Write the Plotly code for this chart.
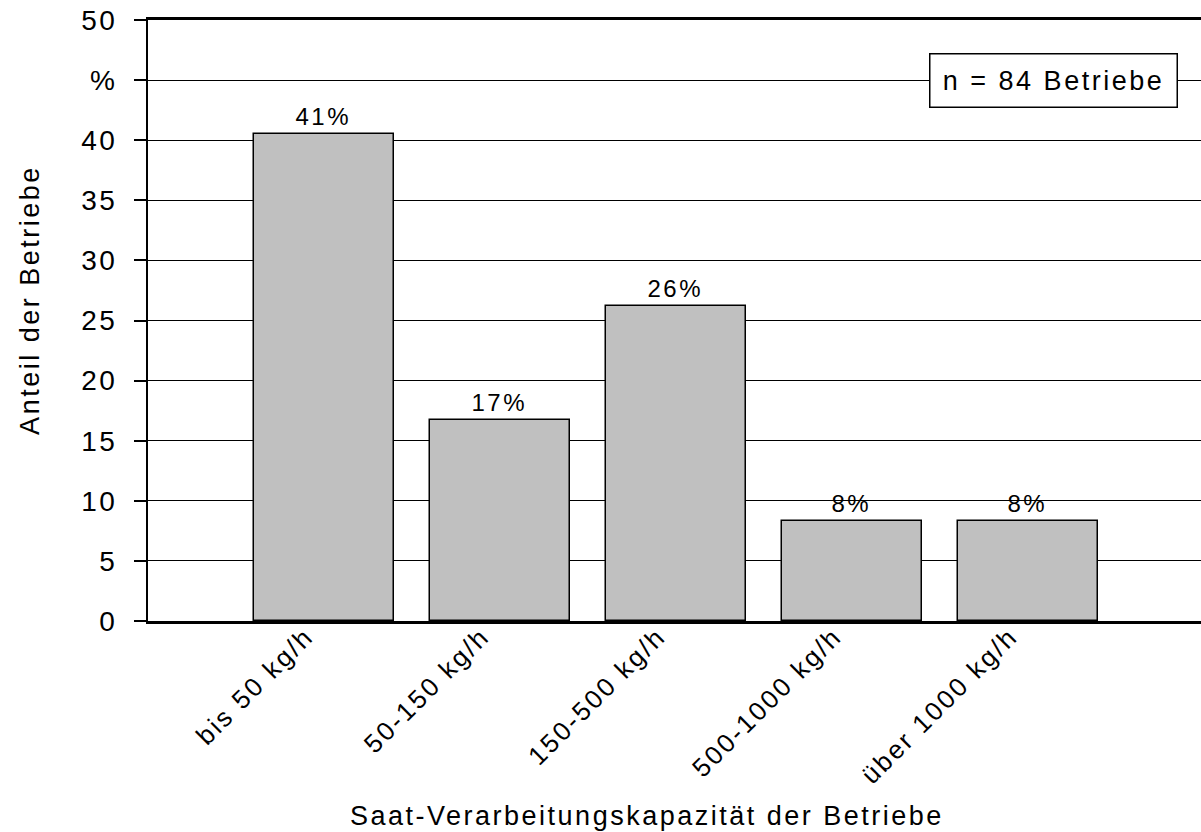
import plotly.graph_objects as go

# Anteil der Betriebe je Kapazitaetsklasse (n = 84)
categories = ["bis 50 kg/h", "50-150 kg/h", "150-500 kg/h", "500-1000 kg/h", "über 1000 kg/h"]
positions = [1, 2, 3, 4, 5]
anteil = [40.5, 16.7, 26.2, 8.3, 8.3]
bar_labels = ["41%", "17%", "26%", "8%", "8%"]

y_tickvals = [0, 5, 10, 15, 20, 25, 30, 35, 40, 45, 50]
y_ticktext = ["0", "5", "10", "15", "20", "25", "30", "35", "40", "%", "50"]

FONT = "Liberation Sans, Arial, sans-serif"

fig = go.Figure()
fig.add_trace(go.Bar(
    x=positions,
    y=anteil,
    width=0.795,
    marker=dict(color="#c0c0c0", line=dict(color="black", width=1.5)),
    text=bar_labels,
    textposition="outside",
    textfont=dict(family=FONT, size=24, color="black"),
    cliponaxis=False,
    showlegend=False,
))

fig.update_layout(
    width=1201,
    height=832,
    margin=dict(l=148, r=0, t=20, b=211),
    plot_bgcolor="white",
    paper_bgcolor="white",
    font=dict(family=FONT, size=27, color="black"),
    bargap=0,
)

fig.update_xaxes(
    range=[0, 5.98],
    tickvals=positions,
    ticktext=categories,
    tickangle=-45,
    tickfont=dict(size=26),
    ticks="",
    ticklabelshift=-18,
    ticklabelstandoff=-13,
    showgrid=False,
    zeroline=False,
    showline=True,
    linecolor="black",
    linewidth=2.5,
    mirror=True,
)

fig.update_yaxes(
    range=[0, 50],
    tickvals=y_tickvals,
    ticktext=y_ticktext,
    tickfont=dict(size=28),
    ticks="outside",
    ticklen=12,
    tickwidth=1.5,
    tickcolor="black",
    ticklabelstandoff=11,
    showgrid=True,
    gridcolor="black",
    gridwidth=1,
    zeroline=False,
    showline=True,
    linecolor="black",
    linewidth=2,
)

# n-Box
fig.add_annotation(
    x=5.14, y=45, xref="x", yref="y",
    text="n = 84 Betriebe",
    showarrow=False,
    width=244, height=50,
    bgcolor="white",
    bordercolor="black",
    borderwidth=1.5,
    borderpad=1,
    font=dict(size=27),
)

# Achsentitel
fig.add_annotation(
    x=-0.112, y=0.534, xref="paper", yref="paper",
    xanchor="center", yanchor="middle",
    text="Anteil der Betriebe",
    textangle=-90,
    showarrow=False,
    font=dict(size=27),
)
fig.add_annotation(
    x=0.474, y=-0.3245, xref="paper", yref="paper",
    xanchor="center", yanchor="middle",
    text="Saat-Verarbeitungskapazität der Betriebe",
    showarrow=False,
    font=dict(size=27),
)

# etwas Zeichenabstand wie im Original, Seitenrand weg
spacing_js = """
document.body.style.margin = '0';
document.getElementById('{plot_id}').querySelectorAll('text').forEach(function(t){ t.style.letterSpacing = '2.5px'; });
"""

fig.write_html("out.html", post_script=spacing_js, config={"displayModeBar": False})
